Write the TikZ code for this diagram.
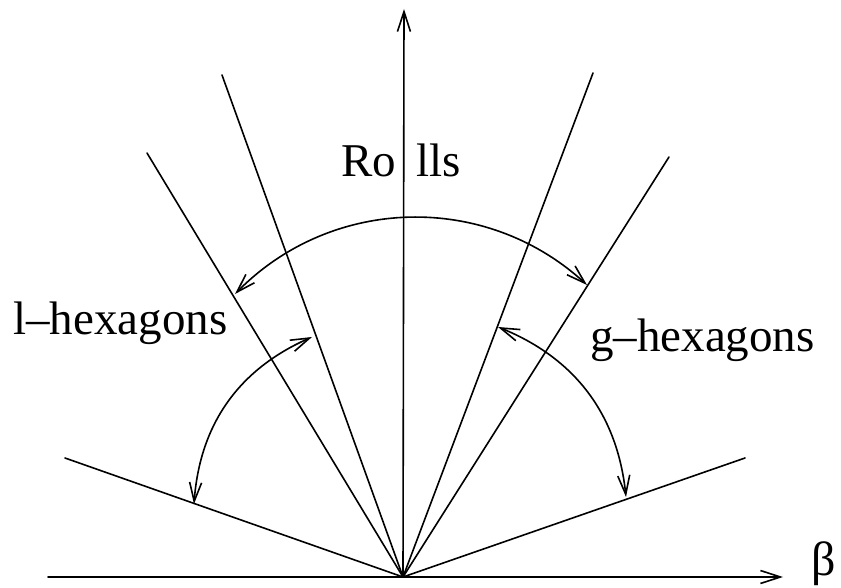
\documentclass[tikz,border=0pt]{standalone}
\usepackage{fontspec}
\setmainfont{Liberation Serif}
\usetikzlibrary{arrows.meta}
\tikzset{
  % ---- lines ------------------------------------------------------------
  ray/.style={draw=black, line width=1.6pt, line cap=round},
  axis/.style={ray, -{Straight Barb[length=20pt,width=13pt]}},
  sweep/.style={ray, {Straight Barb[length=19pt,width=12pt]}-{Straight Barb[length=19pt,width=12pt]}},
  % ---- labels -----------------------------------------------------------
  lbl/.style={font=\fontsize{47}{56}\selectfont, inner sep=0pt, anchor=base west},
}

\begin{document}
\begin{tikzpicture}[x=1pt,y=1pt]
\useasboundingbox (0,0) rectangle (841,587);

% origin and axes
\coordinate (O)    at (403,10);
\coordinate (xbeg) at (48,10);
\coordinate (xend) at (783,10);
\coordinate (yend) at (404,578);
\draw[axis] (xbeg) -- (xend);
\draw[axis] (O) -- (yend);
\node[lbl, font=\fontsize{48}{56}\selectfont] (beta) at (811,12) {β};

% boundary rays
\coordinate (lo) at (147,434);
\coordinate (li) at (222,512);
\coordinate (ri) at (593,514);
\coordinate (ro) at (669,430);
\coordinate (ll) at (65,129);
\coordinate (rl) at (745,129);
\foreach \p in {lo,li,ri,ro,ll,rl} { \draw[ray] (O) -- (\p); }

% sweeps between the rays
\coordinate (rollsL) at (235,293);
\coordinate (rollsR) at (587,302);
\coordinate (lhexA)  at (194,83);
\coordinate (lhexB)  at (312,250);
\coordinate (ghexA)  at (498,260);
\coordinate (ghexB)  at (626,90);
\draw[sweep] (rollsL) to[bend left=44] (rollsR);
\draw[sweep] (lhexA) to[bend left=31] (lhexB);
\draw[sweep] (ghexA) to[bend left=31] (ghexB);

% region names
\node[lbl, anchor=base] (rolls) at (401,410) {Ro\hspace{20pt}lls};
\node[lbl] (lhex) at (13,252) {l–hexagons};
\node[lbl] (ghex) at (590,235) {g–hexagons};

\end{tikzpicture}
\end{document}
